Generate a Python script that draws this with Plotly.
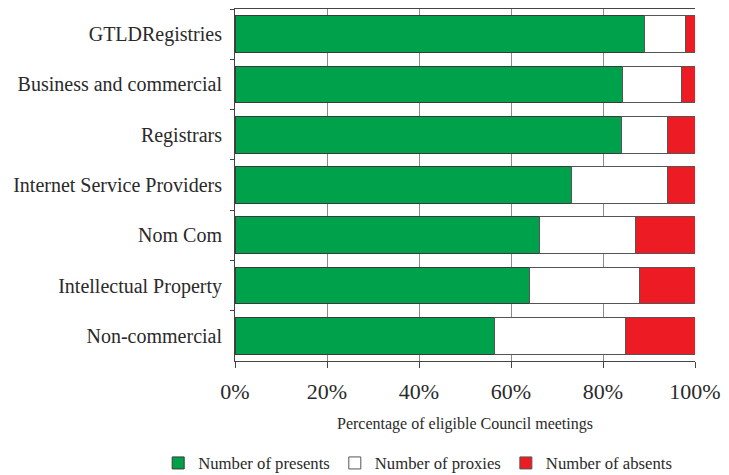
import plotly.graph_objects as go

categories = ["GTLDRegistries", "Business and commercial", "Registrars",
              "Internet Service Providers", "Nom Com", "Intellectual Property",
              "Non-commercial"]
presents = [89.0, 84.3, 84.0, 73.2, 66.1, 64.0, 56.5]
proxies = [9.0, 12.7, 10.1, 20.9, 20.9, 24.0, 28.4]
absents = [2.0, 3.0, 5.9, 5.9, 13.0, 12.0, 15.1]
x_ticks = [0, 20, 40, 60, 80, 100]
x_tick_labels = ["0%", "20%", "40%", "60%", "80%", "100%"]

FONT = "Liberation Serif"
TXT = "#2a2a2a"

fig = go.Figure()
series = [
    ("Number of presents", presents, "#00A14B", "#3a3a3a"),
    ("Number of proxies", proxies, "#FFFFFF", "#555555"),
    ("Number of absents", absents, "#ED1C24", "#555555"),
]
for name, vals, col, lc in series:
    fig.add_trace(go.Bar(
        y=categories, x=vals, name=name, orientation="h",
        marker=dict(color=col, line=dict(color=lc, width=1)),
    ))

fig.update_layout(
    width=729, height=475,
    barmode="stack", bargap=0.27,
    paper_bgcolor="white", plot_bgcolor="white",
    margin=dict(l=235, r=34, t=9, b=114, autoexpand=False),
    font=dict(family=FONT, color=TXT),
    showlegend=True,
    legend=dict(orientation="h", xref="paper", yref="paper",
                x=-0.167, xanchor="left", y=-0.29, yanchor="middle",
                font=dict(family=FONT, size=16.7, color=TXT),
                traceorder="normal", itemwidth=30),
)
fig.update_xaxes(
    range=[0, 100], tickvals=x_ticks, ticktext=x_tick_labels,
    showgrid=True, gridcolor="#8a8a8a", gridwidth=1,
    showline=True, linecolor="#444444", linewidth=1, mirror=True,
    ticks="outside", ticklen=6, tickcolor="#444444",
    tickfont=dict(family=FONT, size=22, color=TXT),
    ticklabelstandoff=5,
    title=dict(text="Percentage of eligible Council meetings",
               font=dict(family=FONT, size=16, color=TXT), standoff=14),
    zeroline=False,
)
fig.update_yaxes(
    categoryorder="array", categoryarray=categories, autorange="reversed",
    showline=True, linecolor="#444444", linewidth=1,
    ticks="outside", ticklen=4, tickcolor="#444444", tickson="boundaries",
    tickfont=dict(family=FONT, size=20, color=TXT),
    ticklabelstandoff=8, showgrid=False,
)

fig.write_html("out.html", config={"displayModeBar": False},
               post_script="document.body.style.margin='0';")
